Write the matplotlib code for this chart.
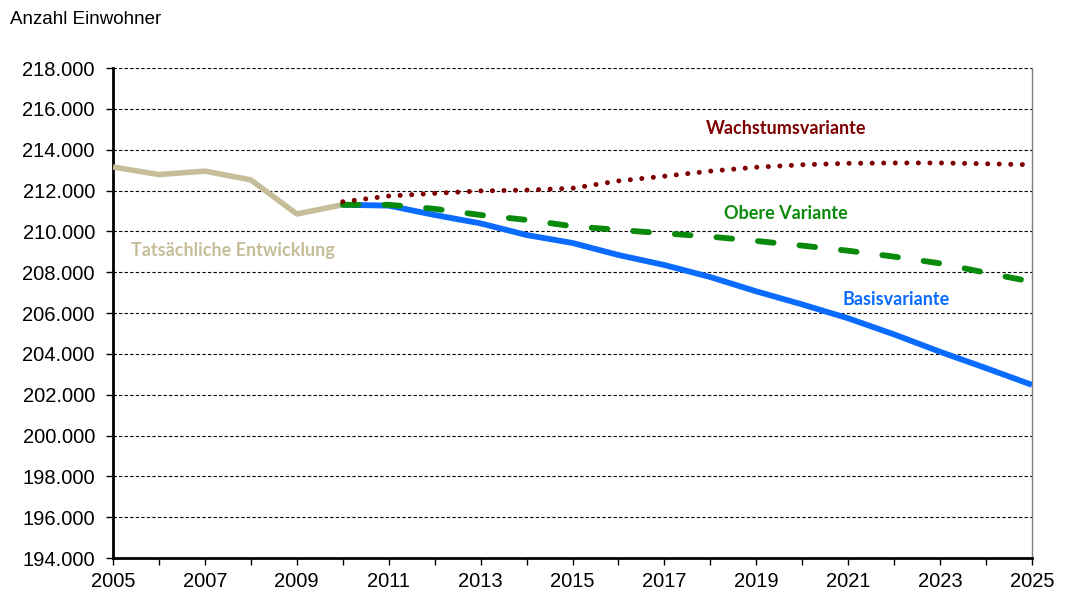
import matplotlib
matplotlib.use("Agg")
import matplotlib.pyplot as plt
from matplotlib.ticker import FuncFormatter, MultipleLocator, FixedLocator

years_hist = [2005, 2006, 2007, 2008, 2009, 2010]
hist = [213150, 212780, 212950, 212520, 210850, 211300]

years_proj = list(range(2010, 2026))
basis = [211300, 211260, 210800, 210390, 209820, 209430, 208840, 208350,
         207760, 207060, 206420, 205740, 204950, 204100, 203300, 202480]
obere = [211300, 211300, 211100, 210800, 210560, 210250, 210070, 209900,
         209740, 209530, 209300, 209050, 208760, 208430, 207970, 207530]
wachstum = [211450, 211730, 211860, 211980, 212020, 212110, 212470, 212700,
            212950, 213140, 213260, 213330, 213350, 213350, 213310, 213260]

x_labels = list(range(2005, 2026, 2))

plt.rcParams['font.family'] = ['Liberation Sans', 'DejaVu Sans']

fig = plt.figure(figsize=(10.65, 5.93), dpi=100)
ax = fig.add_axes([113/1065, 35/593, (1032-113)/1065, (558-68)/593])

c_hist = '#C6BD99'
c_basis = '#0A6CFF'
c_obere = '#0A8A0A'
c_wachs = '#7F0000'

ax.plot(years_hist, hist, color=c_hist, lw=4, solid_capstyle='butt', zorder=3)
ax.plot(years_proj, basis, color=c_basis, lw=4.2, solid_capstyle='butt', zorder=4)
ax.plot(years_proj, obere, color=c_obere, lw=4.2, dashes=(2.7, 4.45),
        dash_capstyle='round', zorder=5)
ax.plot(years_proj, wachstum, color=c_wachs, lw=3.6, dashes=(0.01, 2.3),
        dash_capstyle='round', zorder=5)

ax.set_xlim(2005, 2025)
ax.set_ylim(194000, 218000)
ax.xaxis.set_major_locator(FixedLocator(x_labels))
ax.xaxis.set_minor_locator(MultipleLocator(1))
ax.yaxis.set_major_locator(MultipleLocator(2000))
ax.yaxis.set_major_formatter(FuncFormatter(lambda v, p: f"{int(v):,}".replace(",", ".")))

ax.grid(axis='y', color='black', lw=0.8, linestyle=(0, (3, 2)))
ax.set_axisbelow(True)

ax.tick_params(axis='both', which='both', direction='out', length=5, width=1,
               labelsize=14.5, color='black')
ax.tick_params(axis='x', pad=5)
ax.tick_params(axis='y', pad=8)

for s in ['left', 'bottom']:
    ax.spines[s].set_linewidth(2)
    ax.spines[s].set_color('black')
ax.spines['top'].set_visible(False)
ax.spines['right'].set_color('#808080')
ax.spines['right'].set_linewidth(1)

lab_font = ['Lato', 'DejaVu Sans']
fs = 13
ax.text(2019.65, 215060, 'Wachstumsvariante', color=c_wachs, fontsize=fs,
        fontweight='bold', family=lab_font, ha='center', va='center')
ax.text(2019.65, 210850, 'Obere Variante', color=c_obere, fontsize=fs,
        fontweight='bold', family=lab_font, ha='center', va='center')
ax.text(2022.04, 206640, 'Basisvariante', color=c_basis, fontsize=fs,
        fontweight='bold', family=lab_font, ha='center', va='center')
ax.text(2007.61, 209040, 'Tatsächliche Entwicklung', color=c_hist, fontsize=fs,
        fontweight='bold', family=lab_font, ha='center', va='center')

fig.text(10/1065, 1 - 20/593, 'Anzahl Einwohner', fontsize=13.5, ha='left', va='center')

fig.savefig('out.png', dpi=100)
